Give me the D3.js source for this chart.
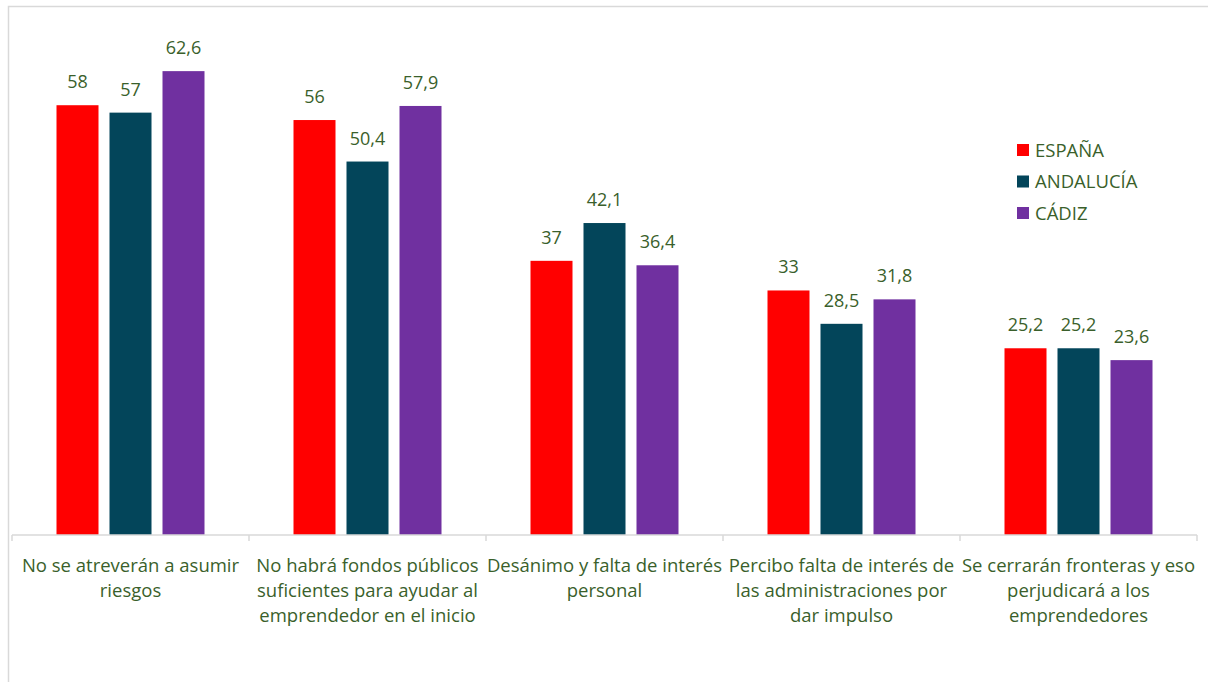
<!DOCTYPE html>
<html><head><meta charset="utf-8">
<script src="https://cdn.jsdelivr.net/npm/d3@7"></script>
<style>body{margin:0;background:#fff;}</style>
</head><body>
<svg id="c" width="1208" height="682"></svg>
<script>
const categories = [
  ["No se atreverán a asumir","riesgos"],
  ["No habrá fondos públicos","suficientes para ayudar al","emprendedor en el inicio"],
  ["Desánimo y falta de interés","personal"],
  ["Percibo falta de interés de","las administraciones por","dar impulso"],
  ["Se cerrarán fronteras y eso","perjudicará a los","emprendedores"]
];
const seriesNames = ["ESPAÑA","ANDALUCÍA","CÁDIZ"];
const espana = [58, 56, 37, 33, 25.2];
const andalucia = [57, 50.4, 42.1, 28.5, 25.2];
const cadiz = [62.6, 57.9, 36.4, 31.8, 23.6];
const colors = ["#FF0000","#03455A","#7030A0"];

const svg = d3.select("#c");
const font = "'Open Sans', sans-serif";
const txtColor = "#3A5F2B";
svg.append("rect").attr("x",8.5).attr("y",6.5).attr("width",1210).attr("height",690)
  .attr("fill","none").attr("stroke","#D9D9D9").attr("stroke-width",1.5);

const x0 = 12, x1 = 1197, yBase = 535;
const x = d3.scaleBand().domain(d3.range(categories.length)).range([x0,x1]);
const y = d3.scaleLinear().domain([0,70]).range([yBase, yBase-518.7]);
const series = [espana, andalucia, cadiz];
const barW = 42, step = 53;

series.forEach((vals,si)=>{
  const g = svg.append("g");
  g.selectAll("rect").data(vals).join("rect")
    .attr("x",(d,i)=>x(i)+x.bandwidth()/2 + (si-1)*step - barW/2)
    .attr("y",d=>y(d)).attr("width",barW).attr("height",d=>yBase-y(d))
    .attr("fill",colors[si]);
  g.selectAll("text").data(vals).join("text")
    .attr("x",(d,i)=>x(i)+x.bandwidth()/2 + (si-1)*step)
    .attr("y",d=>y(d)-17)
    .attr("text-anchor","middle").attr("font-family",font).attr("font-size",18)
    .attr("fill",txtColor)
    .text(d=>String(d).replace(".",","));
});

const axis = d3.axisBottom(x).tickSize(0).tickFormat("");
const ag = svg.append("g").attr("transform",`translate(0,${yBase})`).call(axis);
ag.select(".domain").attr("stroke","#D9D9D9").attr("stroke-width",1.5).attr("d",`M${x0},0H${x1}`);
const bounds = d3.range(categories.length+1).map(i=> i<categories.length ? x(i) : x1);
svg.selectAll(".tk").data(bounds).join("line")
  .attr("x1",d=>d).attr("x2",d=>d).attr("y1",yBase).attr("y2",yBase+6)
  .attr("stroke","#D9D9D9").attr("stroke-width",1.5);

categories.forEach((lines,i)=>{
  const t = svg.append("text").attr("text-anchor","middle").attr("font-family",font)
    .attr("font-size",18.5).attr("fill",txtColor);
  lines.forEach((l,j)=>{
    t.append("tspan").attr("x",x(i)+x.bandwidth()/2).attr("y",571.5+j*25).text(l);
  });
});

const lg = svg.append("g");
seriesNames.forEach((n,i)=>{
  lg.append("rect").attr("x",1017).attr("y",144+i*31.5).attr("width",12).attr("height",12).attr("fill",colors[i]);
  lg.append("text").attr("x",1035).attr("y",156.5+i*31.5).attr("font-family",font).attr("font-size",18.5)
    .attr("fill",txtColor).text(n);
});
</script>
</body></html>
